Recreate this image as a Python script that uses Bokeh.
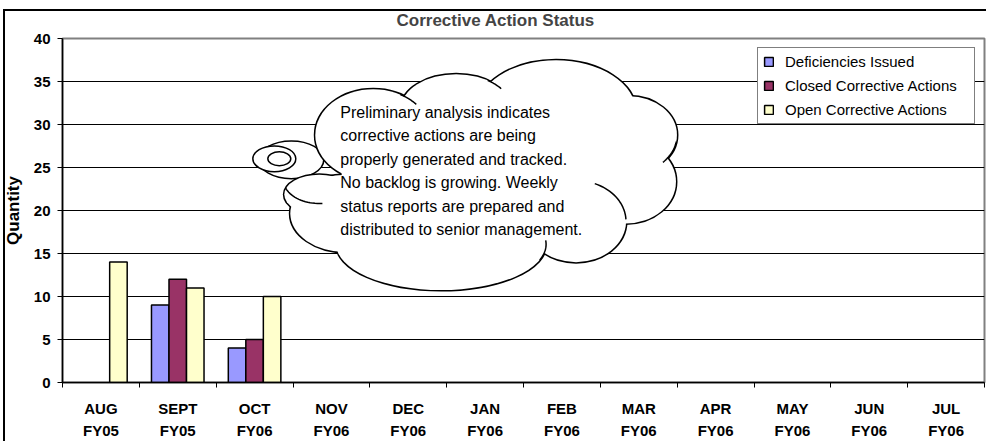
import numpy as np
from bokeh.plotting import figure
from bokeh.models import (Range1d, FixedTicker, Legend, LegendItem, Label,
                          ColumnDataSource)
from bokeh.embed import file_html
from bokeh.resources import INLINE

# ---------------- data ----------------
months = ["AUG", "SEPT", "OCT", "NOV", "DEC", "JAN", "FEB", "MAR", "APR", "MAY", "JUN", "JUL"]
fiscal_years = ["FY05", "FY05", "FY06", "FY06", "FY06", "FY06", "FY06", "FY06", "FY06", "FY06", "FY06", "FY06"]
deficiencies_issued = [None, 9, 4, None, None, None, None, None, None, None, None, None]
closed_actions = [None, 12, 5, None, None, None, None, None, None, None, None, None]
open_actions = [14, 11, 10, None, None, None, None, None, None, None, None, None]
series_names = ["Deficiencies Issued", "Closed Corrective Actions", "Open Corrective Actions"]
series_colors = ["#9999FF", "#993366", "#FFFFCC"]
y_ticks = [0, 5, 10, 15, 20, 25, 30, 35, 40]
title_text = "Corrective Action Status"
y_label = "Quantity"
note = ("Preliminary analysis indicates\n"
        "corrective actions are being\n"
        "properly generated and tracked.\n"
        "No backlog is growing.  Weekly\n"
        "status reports are prepared and\n"
        "distributed to senior management.")

FONT = "Liberation Sans"
n = len(months)

W, H = 986, 441
p = figure(width=W, height=H, output_backend="svg", toolbar_location=None,
           x_range=Range1d(0, n), y_range=Range1d(0, 40),
           min_border_left=61, min_border_right=2, min_border_top=38, min_border_bottom=57,
           background_fill_color="white", border_fill_color=None)
# white page with the chart-area border (left and top edges) drawn behind the canvas
p.styles = {
    "background-color": "white",
    "background-image": "linear-gradient(black, black), linear-gradient(black, black)",
    "background-size": "2px 100%, 100% 2px",
    "background-position": "3px 9px, 3px 9px",
    "background-repeat": "no-repeat",
}

p.outline_line_color = "#808080"
p.outline_line_width = 2

# title
p.title.text = title_text
p.title.text_font = FONT
p.title.text_font_size = "17px"
p.title.text_font_style = "bold"
p.title.align = "left"
p.title.offset = 334
p.title.vertical_align = "top"
p.title.standoff = 14

# x axis: labels at category centres, minor ticks at boundaries
centers = [i + 0.5 for i in range(n)]
xa = p.xaxis[0]
xa.ticker = FixedTicker(ticks=centers, minor_ticks=list(range(n + 1)))
xa.major_label_overrides = {c: f"{m}\n{fy}" for c, m, fy in zip(centers, months, fiscal_years)}
xa.major_tick_line_color = None
xa.major_tick_out = 0
xa.major_tick_in = 0
xa.minor_tick_line_color = "black"
xa.minor_tick_out = 5
xa.minor_tick_in = 0
xa.axis_line_color = "black"
xa.axis_line_width = 1.5
xa.major_label_text_font = FONT
xa.major_label_text_font_size = "15px"
xa.major_label_text_font_style = "bold"
xa.major_label_text_color = "black"
xa.major_label_text_line_height = 1.3
xa.major_label_standoff = 12

ya = p.yaxis[0]
ya.ticker = FixedTicker(ticks=y_ticks, minor_ticks=[])
ya.axis_line_color = "black"
ya.axis_line_width = 1.5
ya.major_tick_out = 5
ya.major_tick_in = 0
ya.major_tick_line_color = "black"
ya.major_label_text_font = FONT
ya.major_label_text_font_size = "15px"
ya.major_label_text_font_style = "bold"
ya.major_label_text_color = "black"
ya.major_label_standoff = 7
ya.axis_label = y_label
ya.axis_label_text_font = FONT
ya.axis_label_text_font_size = "17px"
ya.axis_label_text_font_style = "bold"
ya.axis_label_text_color = "black"
ya.axis_label_standoff = 8

p.xgrid.visible = False
p.ygrid.ticker = FixedTicker(ticks=y_ticks[1:-1])
p.ygrid.grid_line_color = "black"
p.ygrid.grid_line_width = 1

# ---------------- bars ----------------
bar_w = 0.228
offsets = [-bar_w, 0.0, bar_w]
renderers = []
for vals, off, col in zip([deficiencies_issued, closed_actions, open_actions], offsets, series_colors):
    xs = [c + off for c, v in zip(centers, vals) if v is not None]
    tops = [v for v in vals if v is not None]
    src = ColumnDataSource(dict(x=xs, top=tops))
    r = p.vbar(x="x", top="top", bottom=0, width=bar_w, source=src,
               fill_color=col, line_color="black", line_width=1.5)
    renderers.append(r)

legend = Legend(items=[LegendItem(label=nm, renderers=[r]) for nm, r in zip(series_names, renderers)],
                location="top_right", margin=9, padding=5, spacing=7,
                glyph_width=11, glyph_height=11, label_standoff=11, label_width=184,
                label_text_font=FONT, label_text_font_size="15px", label_text_color="black",
                border_line_color="black", border_line_width=1,
                background_fill_color="white", background_fill_alpha=1.0)
p.add_layout(legend)

# ---------------- cloud callout (annotation) ----------------
PX_X = 76.9   # pixels per category
PX_Y = 8.65   # pixels per unit
FRAME_L, FRAME_B = 61.0, 384.0

def dx(px):
    return (px - FRAME_L) / PX_X

def dy(py):
    return (FRAME_B - py) / PX_Y

bubbles = [(290, 160, 65, 38), (273, 159, 43, 26), (278, 159, 23, 14)]
for bx, by, bw, bh in bubbles:
    p.ellipse(x=dx(bx), y=dy(by), width=bw / PX_X, height=bh / PX_Y,
              fill_color="white", line_color="black", line_width=1.5)

lobes = [(372, 135, 116, 92), (455, 108, 110, 68), (555, 112, 160, 104),
         (628, 135, 96, 78), (625, 182, 100, 84), (575, 222, 100, 82),
         (440, 245, 210, 92), (345, 214, 112, 78), (318, 195, 70, 40),
         (480, 170, 280, 140)]
lx = [dx(a) for a, b, c, d in lobes]
ly = [dy(b) for a, b, c, d in lobes]
lw = [c / PX_X for a, b, c, d in lobes]
lh = [d / PX_Y for a, b, c, d in lobes]
p.ellipse(x=lx, y=ly, width=lw, height=lh, fill_color="white",
          line_color="black", line_width=3)
p.ellipse(x=lx, y=ly, width=lw, height=lh, fill_color="white", line_color=None)

# short inner arcs of the cloud outline (centre x, centre y, rx, ry, start deg, end deg)
inner_arcs = [(575, 222, 50, 41, 3, 68), (318, 180, 36, 24, 200, 275),
              (628, 135, 48, 39, -10, -45), (372, 135, 58, 46, 62, 42),
              (455, 108, 55, 34, 55, 35), (440, 245, 105, 46, 5, -20)]
for cx, cy, rx, ry, t0, t1 in inner_arcs:
    t = np.radians(np.linspace(t0, t1, 20))
    p.line(x=dx(cx + rx * np.cos(t)), y=dy(cy - ry * np.sin(t)),
           line_color="black", line_width=1.5)

p.add_layout(Label(x=dx(339), y=dy(104), text=note, text_align="left",
                   text_baseline="top", text_font=FONT, text_font_size="16px",
                   text_color="black", text_line_height=1.375))

open("out.html", "w").write(file_html(p, INLINE))
